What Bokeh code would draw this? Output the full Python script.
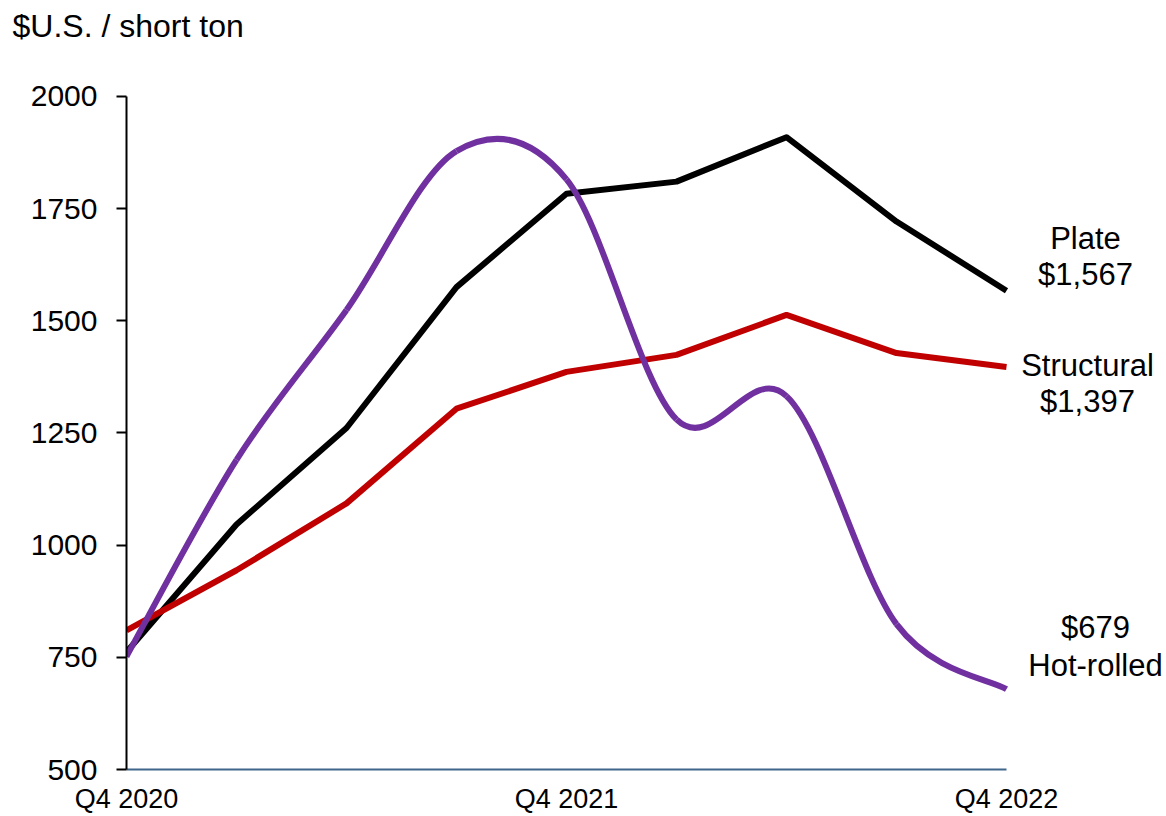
from bokeh.plotting import figure
from bokeh.models import Range1d, FixedTicker, Label, ColumnDataSource
from bokeh.embed import file_html
from bokeh.resources import INLINE

# ---- data ----
quarters = ["Q4 2020", "Q1 2021", "Q2 2021", "Q3 2021", "Q4 2021",
            "Q1 2022", "Q2 2022", "Q3 2022", "Q4 2022"]
plate = [762, 1046, 1261, 1575, 1783, 1810, 1909, 1721, 1567]
structural = [810, 944, 1093, 1304, 1386, 1424, 1513, 1428, 1397]
hot_rolled = [752, 1190, 1524, 1878, 1815, 1280, 1332, 824, 679]
y_ticks = [500, 750, 1000, 1250, 1500, 1750, 2000]
x_tick_idx = [0, 4, 8]
unit_label = "$U.S. / short ton"

FONT = "Liberation Sans"
idx = list(range(len(quarters)))
last = len(quarters) - 1

# frame: left 126 px .. right edge of canvas; top 48 px .. 771 px
px_per_x = 110.0
px_per_y = 0.45
frame_top, frame_bottom, frame_left, W, H = 48, 771, 126, 1166, 816
x_end = (W - frame_left) / px_per_x
y_end = 500 + (frame_bottom - frame_top) / px_per_y

p = figure(width=W, height=H, output_backend="svg", toolbar_location=None,
           x_range=Range1d(0, x_end), y_range=Range1d(500, y_end),
           min_border_left=frame_left, min_border_right=0,
           min_border_top=frame_top, min_border_bottom=H - frame_bottom)
p.outline_line_color = None
p.xgrid.visible = False
p.ygrid.visible = False
p.background_fill_color = "white"
p.border_fill_color = "white"

p.title.text = unit_label
p.title.align = "left"
p.title.offset = -114
p.title.standoff = 10
p.title.text_font = FONT
p.title.text_font_size = "32px"
p.title.text_font_style = "normal"
p.title.text_color = "black"

# y axis
ya = p.yaxis[0]
ya.ticker = FixedTicker(ticks=y_ticks)
ya.bounds = (500, 2000)
ya.axis_line_color = "black"
ya.axis_line_width = 2
ya.major_tick_line_color = "black"
ya.major_tick_line_width = 2
ya.major_tick_out = 10
ya.major_tick_in = 0
ya.minor_tick_line_color = None
ya.major_label_standoff = 19
ya.major_label_text_font = FONT
ya.major_label_text_font_size = "30px"
ya.major_label_text_color = "black"

# x axis
xa = p.xaxis[0]
xa.ticker = FixedTicker(ticks=x_tick_idx)
xa.bounds = (0, last)
xa.major_label_overrides = {i: quarters[i] for i in x_tick_idx}
xa.axis_line_color = "#41668C"
xa.axis_line_width = 2
xa.major_tick_line_color = None
xa.major_tick_out = 0
xa.major_tick_in = 0
xa.minor_tick_line_color = None
xa.major_label_standoff = 14
xa.major_label_text_font = FONT
xa.major_label_text_font_size = "27px"
xa.major_label_text_color = "black"

# straight series
p.line(idx, plate, line_color="black", line_width=6, line_join="round")
p.line(idx, structural, line_color="#C00000", line_width=6, line_join="round")

# smoothed series (Catmull-Rom style Bezier segments through the data points)
n = len(hot_rolled)
x0, y0, x1, y1, cx0, cy0, cx1, cy1 = [], [], [], [], [], [], [], []
for i in range(n - 1):
    pm = max(i - 1, 0)
    pn = min(i + 2, n - 1)
    x0.append(idx[i]); y0.append(hot_rolled[i])
    x1.append(idx[i + 1]); y1.append(hot_rolled[i + 1])
    cx0.append(idx[i] + (idx[i + 1] - idx[pm]) / 6)
    cy0.append(hot_rolled[i] + (hot_rolled[i + 1] - hot_rolled[pm]) / 6)
    cx1.append(idx[i + 1] - (idx[pn] - idx[i]) / 6)
    cy1.append(hot_rolled[i + 1] - (hot_rolled[pn] - hot_rolled[i]) / 6)
src = ColumnDataSource(dict(x0=x0, y0=y0, x1=x1, y1=y1,
                            cx0=cx0, cy0=cy0, cx1=cx1, cy1=cy1))
p.bezier(x0="x0", y0="y0", x1="x1", y1="y1", cx0="cx0", cy0="cy0",
         cx1="cx1", cy1="cy1", source=src, line_color="#7030A0", line_width=6)


def lab(text, y, xoff, yoff, align="center", x=last):
    p.add_layout(Label(x=x, y=y, x_offset=xoff, y_offset=yoff, text=text,
                       text_font=FONT, text_font_size="31px",
                       text_color="black", text_align=align,
                       text_baseline="middle"))


lab("Plate", plate[-1], 79, 52)
lab("$" + f"{plate[-1]:,}", plate[-1], 79, 16)
lab("Structural", structural[-1], 81, 1)
lab("$" + f"{structural[-1]:,}", structural[-1], 81, -35)
lab("$" + f"{hot_rolled[-1]:,}", hot_rolled[-1], 89, 62)
lab("Hot-rolled", hot_rolled[-1], 89, 24)

open("out.html", "w").write(file_html(p, INLINE))
